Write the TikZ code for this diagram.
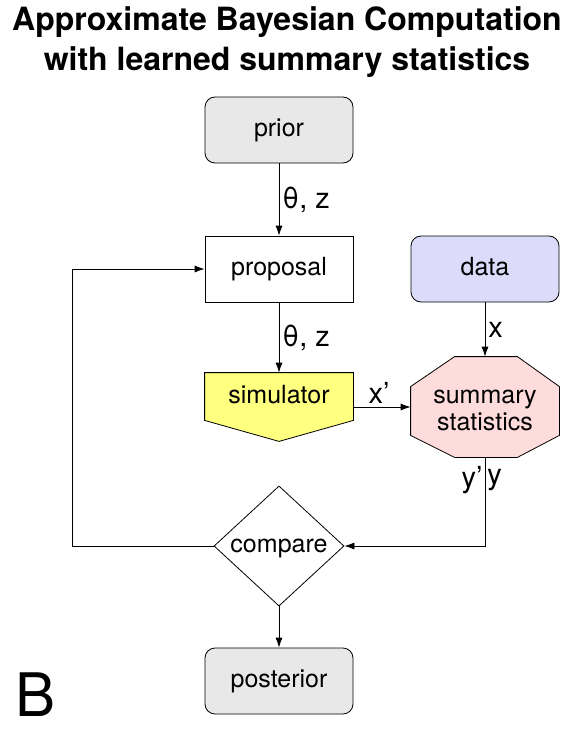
\documentclass[tikz,border=0pt]{standalone}
\usepackage{fontspec}
\setmainfont{TeX Gyre Heros}
\usetikzlibrary{shapes.geometric,arrows.meta}
\definecolor{boxgray}{HTML}{E8E8E8}
\definecolor{datablue}{HTML}{DCDCFA}
\definecolor{simyellow}{HTML}{FFFF80}
\definecolor{statspink}{HTML}{FFDCDC}
\tikzset{
  box/.style={rectangle,draw=black,line width=0.8pt,minimum width=148pt,minimum height=66pt,inner sep=0pt,
    font=\fontsize{25}{28}\selectfont,text height=18pt,text depth=5pt},
  roundbox/.style={box,rounded corners=10pt},
  lbl/.style={font=\fontsize{29}{32}\selectfont,inner sep=3pt},
  frame/.style={rectangle,inner sep=0pt,minimum width=148pt}
}
\begin{document}
\begin{tikzpicture}[>={Latex[length=10pt,width=7pt]},x=1pt,y=1pt,line width=0.8pt]
\useasboundingbox (0,0) rectangle (574,-733);
\node (title) at (287,-42)[align=center,font=\fontsize{32}{40}\selectfont\bfseries]{Approximate Bayesian Computation\\with learned summary statistics};

\node (prior) at (279,-130)[roundbox,fill=boxgray]{prior};
\node (proposal) at (279,-269)[box,fill=white]{proposal};
\node (data) at (485,-269)[roundbox,fill=datablue]{data};

% simulator and summary statistics: shapes drawn by hand round empty frames
\node (sim) at (279,-407)[frame,minimum height=68pt]{};
\filldraw[fill=simyellow] (sim.north west) -- (sim.north east) -- ([yshift=21pt]sim.south east)
  -- (sim.south) -- ([yshift=21pt]sim.south west) -- cycle;
\node (simtext) at (279,-397)[box,draw=none]{simulator};

\node (stats) at (485,-407)[frame,minimum height=100pt]{};
\filldraw[fill=statspink] ([xshift=44pt]stats.north west) -- ([xshift=-42pt]stats.north east)
  -- ([yshift=-30pt]stats.north east) -- ([yshift=22pt]stats.south east)
  -- ([xshift=-42pt]stats.south east) -- ([xshift=44pt]stats.south west)
  -- ([yshift=22pt]stats.south west) -- ([yshift=-30pt]stats.north west) -- cycle;
\node (statstext) at (485,-410)[align=center,inner sep=0pt,font=\fontsize{25}{27}\selectfont]{summary\\statistics};

\node (compare) at (279,-546)[diamond,draw=black,minimum width=130pt,minimum height=120pt,inner sep=0pt,
  font=\fontsize{25}{28}\selectfont,text height=18pt,text depth=5pt]{compare};
\node (posterior) at (279,-681)[roundbox,fill=boxgray]{posterior};
\node (panel) at (36,-695)[font=\fontsize{60}{60}\selectfont]{B};

\coordinate (loop) at (72,-546);
\coordinate (corner) at (485,-546);

\draw[->] (prior) -- node[right,lbl]{θ, z} (proposal);
\draw[->] (proposal) -- node[right,lbl]{θ, z} (sim);
\draw[->] (data) -- node[right,lbl]{x} (stats);
\draw[->] (sim.east) -- node[above,lbl,xshift=-3pt]{x’} (stats.west);
\draw[->] (stats.south) -- node[pos=0.26,left,lbl,inner sep=2pt]{y’} node[pos=0.26,right,lbl,inner sep=2pt]{y} (corner) -- (compare.east);
\draw[->] (compare.west) -- (loop) |- (proposal.west);
\draw[->] (compare) -- (posterior);
\end{tikzpicture}
\end{document}
